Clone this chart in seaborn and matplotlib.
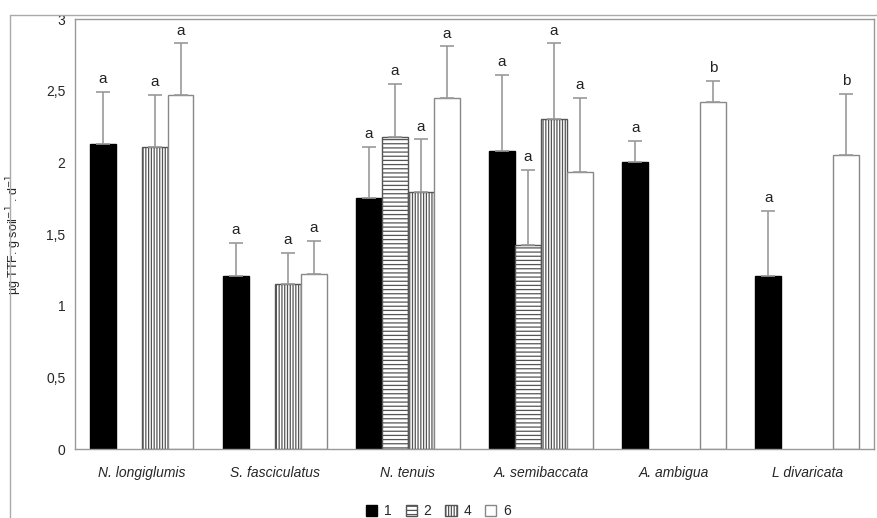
import numpy as np
import pandas as pd
import matplotlib
matplotlib.use('Agg')
import matplotlib.pyplot as plt
import seaborn as sns
from matplotlib.lines import Line2D
from matplotlib.patches import Patch
from matplotlib.ticker import FuncFormatter

# данные
species = ['N. longiglumis', 'S. fasciculatus', 'N. tenuis',
           'A. semibaccata', 'A. ambigua', 'L divaricata']
treatments = ['1', '2', '4', '6']

mean_1 = [2.13, 1.21, 1.75, 2.08, 2.00, 1.21]
mean_2 = [np.nan, np.nan, 2.18, 1.42, np.nan, np.nan]
mean_4 = [2.11, 1.15, 1.79, 2.30, np.nan, np.nan]
mean_6 = [2.47, 1.22, 2.45, 1.93, 2.42, 2.05]

err_1 = [0.36, 0.23, 0.36, 0.53, 0.15, 0.45]
err_2 = [np.nan, np.nan, 0.37, 0.53, np.nan, np.nan]
err_4 = [0.36, 0.22, 0.37, 0.53, np.nan, np.nan]
err_6 = [0.36, 0.23, 0.36, 0.52, 0.15, 0.43]

let_1 = ['a', 'a', 'a', 'a', 'a', 'a']
let_2 = ['', '', 'a', 'a', '', '']
let_4 = ['a', 'a', 'a', 'a', '', '']
let_6 = ['a', 'a', 'a', 'a', 'b', 'b']

means = [mean_1, mean_2, mean_4, mean_6]
errs = [err_1, err_2, err_4, err_6]
lets = [let_1, let_2, let_4, let_6]

rows = []
for t, m in zip(treatments, means):
    for s, v in zip(species, m):
        if not np.isnan(v):
            rows.append({'species': s, 'treat': t, 'value': v})
df = pd.DataFrame(rows)

sns.set_style('white')
plt.rcParams['font.family'] = ['Liberation Sans', 'DejaVu Sans']
plt.rcParams['hatch.linewidth'] = 0.9

fig = plt.figure(figsize=(8.77, 5.18), dpi=100)
ax = fig.add_axes([0.0855, 0.1332, 0.911, 0.830])

faces = {'1': 'black', '2': 'white', '4': 'white', '6': 'white'}
edges = {'1': 'black', '2': '#555555', '4': '#555555', '6': '#888888'}
hatches = {'1': '', '2': '----', '4': '||||||', '6': ''}

sns.barplot(data=df, x='species', y='value', hue='treat', order=species,
            hue_order=treatments, width=0.78, gap=0, errorbar=None,
            ax=ax, legend=False)

for t, cont, e_list, l_list in zip(treatments, ax.containers, errs, lets):
    for p in cont.patches:
        h = p.get_height()
        if np.isnan(h):
            continue
        p.set_facecolor(faces[t])
        p.set_edgecolor(edges[t])
        p.set_hatch(hatches[t])
        p.set_linewidth(1.0)
        xc = p.get_x() + p.get_width() / 2
        i = int(round(xc))
        e = e_list[i]
        ax.errorbar(xc, h, yerr=[[0], [e]], fmt='none', ecolor='#999999',
                    elinewidth=1.2, capsize=5, capthick=1.2, zorder=1)
        ax.text(xc, h + e + 0.04, l_list[i], ha='center', va='bottom',
                fontsize=11, color='#222222')

ax.set_ylim(0, 3)
ax.set_xlim(-0.5, 5.5)
ax.set_yticks(np.arange(0, 3.01, 0.5))
ax.yaxis.set_major_formatter(FuncFormatter(
    lambda v, pos: ('%g' % v).replace('.', ',')))
ax.set_xticks(np.arange(-0.5, 5.6, 1.0))
ax.set_xticklabels([])
ax.set_xticks(np.arange(0, 6), minor=True)
ax.set_xticklabels(species, minor=True, style='italic', fontsize=10)
ax.tick_params(axis='x', which='major', direction='out', length=4,
               color='#888888', width=1)
ax.tick_params(axis='x', which='minor', length=0, pad=12)
ax.tick_params(axis='y', direction='out', length=4, color='#888888',
               labelsize=10, pad=3)
ax.set_xlabel('')
ax.set_ylabel(r'µg TTF. g soil$^{-1}$ . d$^{-1}$', fontsize=9)
ax.yaxis.set_label_coords(-0.064, 0.5)

for sp in ax.spines.values():
    sp.set_visible(True)
    sp.set_color('#999999')
    sp.set_linewidth(1.0)

# внешняя рамка диаграммы
fig.add_artist(Line2D([10 / 877, 10 / 877], [0, 1 - 15 / 518],
                      transform=fig.transFigure, color='#aaaaaa', lw=1))
fig.add_artist(Line2D([10 / 877, 1], [1 - 15 / 518, 1 - 15 / 518],
                      transform=fig.transFigure, color='#aaaaaa', lw=1))

handles = [Patch(facecolor=faces[t], edgecolor=edges[t], hatch=hatches[t])
           for t in treatments]
fig.legend(handles, treatments, loc='lower center', ncol=4, frameon=False,
           bbox_to_anchor=(0.5, -0.025), fontsize=10, handlelength=0.8,
           handleheight=0.8, columnspacing=1.0, handletextpad=0.5)

fig.savefig('out.png', dpi=100)
